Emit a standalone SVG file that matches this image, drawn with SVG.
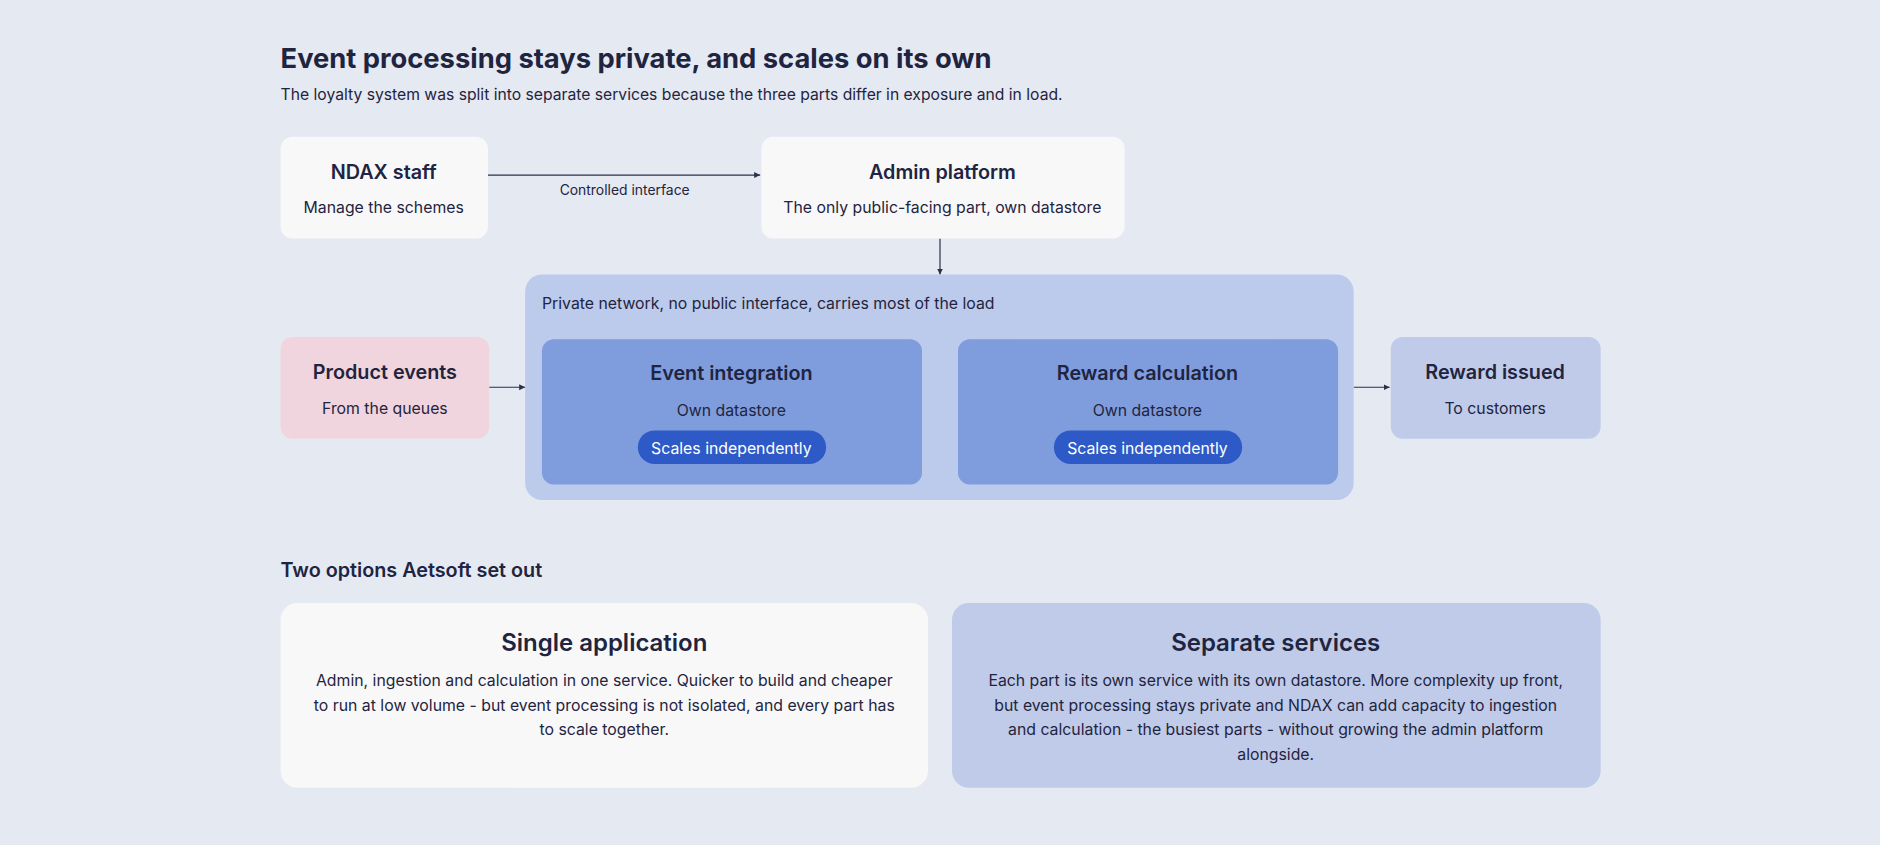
<svg xmlns="http://www.w3.org/2000/svg" width="1880" height="845" viewBox="0 0 1880 845">
<defs>
<marker id="ah" markerWidth="6" markerHeight="6" refX="5" refY="3" orient="auto" markerUnits="userSpaceOnUse"><path d="M0,0.5 L5,3 L0,5.5 Z" fill="#2a2f4a"/></marker>
<style>
text{font-family:Inter,"Noto Sans",sans-serif;fill:#1f2440}
.t{font-size:16.5px;font-weight:600;text-anchor:middle}
.s{font-size:13.2px;text-anchor:middle}
.big{font-size:20px;font-weight:600;text-anchor:middle}
.w{fill:#f8f8f9}
.ln{stroke:#2a2f4a;stroke-width:1;fill:none;marker-end:url(#ah)}
</style>
</defs>
<rect width="1880" height="845" fill="#e5e9f2"/>
<g transform="scale(1.19898)">
<text x="234" y="57" style="font-size:22.8px;font-weight:700">Event processing stays private, and scales on its own</text>
<text x="234" y="83" style="font-size:13.1px">The loyalty system was split into separate services because the three parts differ in exposure and in load.</text>
<g id="connectors">
<line class="ln" x1="407" y1="146" x2="634" y2="146"/>
<text x="521" y="163" style="font-size:11.6px;text-anchor:middle">Controlled interface</text>
<line class="ln" x1="784" y1="199" x2="784" y2="229"/>
<line class="ln" x1="408" y1="323" x2="438" y2="323"/>
<line class="ln" x1="769" y1="343" x2="798" y2="343"/>
<line class="ln" x1="1129" y1="323" x2="1159" y2="323"/>
</g>
<g id="ndax"><rect class="w" x="234" y="114" width="173" height="85" rx="10"/>
<text class="t" x="320" y="149">NDAX staff</text><text class="s" x="320" y="178">Manage the schemes</text></g>
<g id="admin"><rect class="w" x="635" y="114" width="303" height="85" rx="10"/>
<text class="t" x="786" y="149">Admin platform</text><text class="s" x="786" y="178">The only public-facing part, own datastore</text></g>
<g id="private"><rect x="438" y="229" width="691" height="188" rx="14" fill="#bccaeb"/>
<text x="452" y="258" style="font-size:13.2px">Private network, no public interface, carries most of the load</text></g>
<g id="event-integration"><rect x="452" y="283" width="317" height="121" rx="10" fill="#7f9cdd"/>
<text class="t" x="610" y="317">Event integration</text><text class="s" x="610" y="347">Own datastore</text>
<rect x="532" y="359" width="157" height="28" rx="14" fill="#2d5ac6"/><text class="s" x="610" y="379" style="fill:#fff">Scales independently</text></g>
<g id="reward-calculation"><rect x="799" y="283" width="317" height="121" rx="10" fill="#7f9cdd"/>
<text class="t" x="957" y="317">Reward calculation</text><text class="s" x="957" y="347">Own datastore</text>
<rect x="879" y="359" width="157" height="28" rx="14" fill="#2d5ac6"/><text class="s" x="957" y="379" style="fill:#fff">Scales independently</text></g>
<g id="product-events"><rect x="234" y="281" width="174" height="85" rx="10" fill="#f0d5de"/>
<text class="t" x="321" y="316">Product events</text><text class="s" x="321" y="345">From the queues</text></g>
<g id="reward-issued"><rect x="1160" y="281" width="175" height="85" rx="10" fill="#bfcbe9"/>
<text class="t" x="1247" y="316">Reward issued</text><text class="s" x="1247" y="345">To customers</text></g>
<text x="234" y="481" style="font-size:16.5px;font-weight:600">Two options Aetsoft set out</text>
<g id="single"><rect class="w" x="234" y="503" width="540" height="154" rx="14"/>
<text class="big" x="504" y="543">Single application</text>
<text class="s" x="504" y="572">Admin, ingestion and calculation in one service. Quicker to build and cheaper</text>
<text class="s" x="504" y="593">to run at low volume - but event processing is not isolated, and every part has</text>
<text class="s" x="504" y="613">to scale together.</text></g>
<g id="separate"><rect x="794" y="503" width="541" height="154" rx="14" fill="#bfcbe9"/>
<text class="big" x="1064" y="543">Separate services</text>
<text class="s" x="1064" y="572">Each part is its own service with its own datastore. More complexity up front,</text>
<text class="s" x="1064" y="593">but event processing stays private and NDAX can add capacity to ingestion</text>
<text class="s" x="1064" y="613">and calculation - the busiest parts - without growing the admin platform</text>
<text class="s" x="1064" y="634">alongside.</text></g>
</g>
</svg>
